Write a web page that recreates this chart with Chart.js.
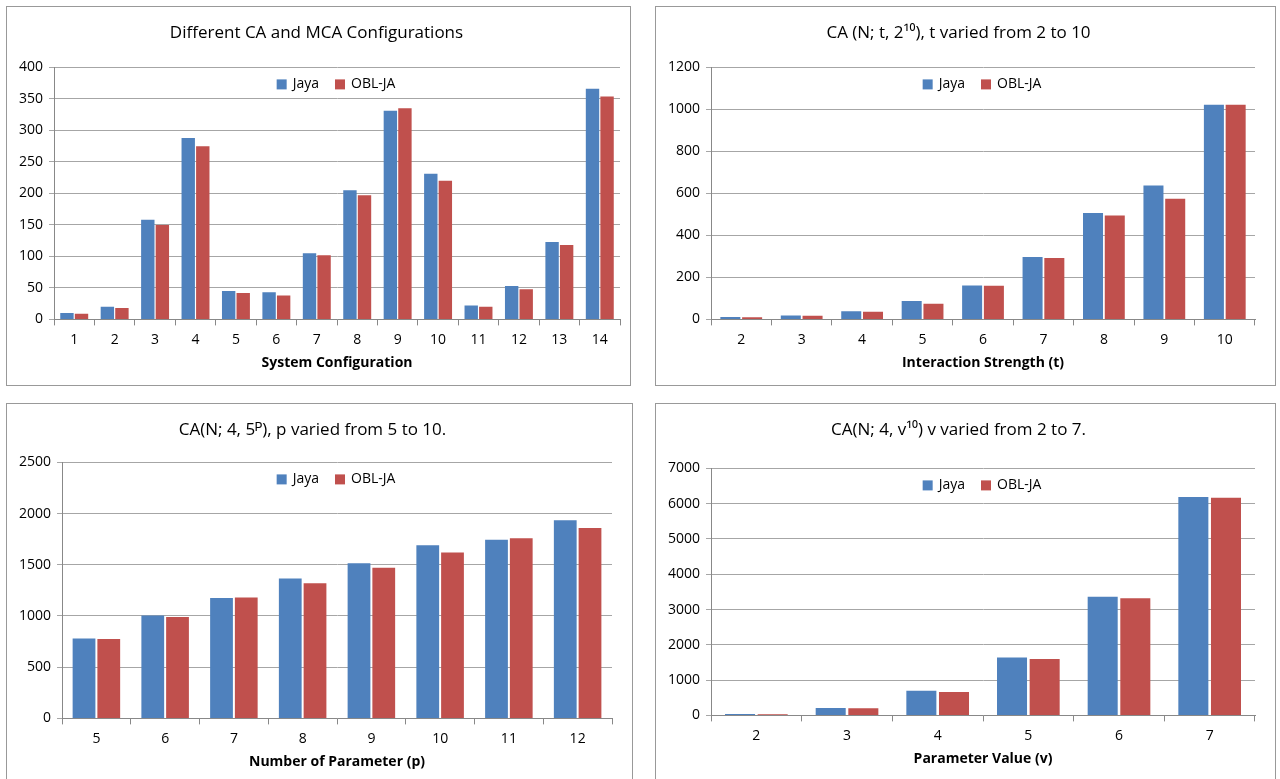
<!DOCTYPE html>
<html><head><meta charset="utf-8">
<script src="https://cdn.jsdelivr.net/npm/chart.js@4"></script>
<style>
body{margin:0;background:#fff;width:1280px;height:779px;overflow:hidden;font-family:"Open Sans",sans-serif}
.p{position:absolute;border:1px solid #999;background:#fff;box-sizing:border-box}
canvas{display:block}
</style></head><body>
<div class="p" style="left:6px;top:6px;width:625px;height:380px"><canvas id="c1"></canvas></div>
<div class="p" style="left:655px;top:6px;width:621px;height:380px"><canvas id="c2"></canvas></div>
<div class="p" style="left:6px;top:403px;width:627px;height:380px"><canvas id="c3"></canvas></div>
<div class="p" style="left:655px;top:403px;width:621px;height:380px"><canvas id="c4"></canvas></div>
<script>
const seriesNames=["Jaya","OBL-JA"];
const cat1=["1","2","3","4","5","6","7","8","9","10","11","12","13","14"];
const jaya1=[10,20,158,288,45,43,105,205,331,231,22,53,123,366];
const obl1=[9,18,150,275,42,38,102,197,335,220,20,48,118,354];
const cat2=["2","3","4","5","6","7","8","9","10"];
const jaya2=[11,18,39,88,162,297,507,638,1022];
const obl2=[10,17,37,75,160,292,495,575,1022];
const cat3=["5","6","7","8","9","10","11","12"];
const jaya3=[780,1005,1175,1365,1515,1690,1745,1935];
const obl3=[775,990,1180,1320,1470,1620,1760,1860];
const cat4=["2","3","4","5","6","7"];
const jaya4=[40,210,700,1640,3360,6190];
const obl4=[35,200,660,1600,3320,6170];
const colors=["#4F81BD","#C0504D"];
const F="'Open Sans',sans-serif";
const legendIn={id:'legendIn',afterDraw(ch){
  const c=ch.ctx,a=ch.chartArea;c.save();c.font="14px "+F;c.textBaseline='middle';
  const items=ch.data.datasets.map(d=>({t:d.label,c:d.backgroundColor}));
  const w=items.reduce((s,i)=>s+12+6+c.measureText(i.t).width,0)+14;
  let x=(a.left+a.right)/2-w/2;const y=a.top+17;
  items.forEach(i=>{c.fillStyle=i.c;c.fillRect(x,y-5,10,10);x+=16;c.fillStyle='#000';c.fillText(i.t,x,y);x+=c.measureText(i.t).width+16;});
  c.restore();}};
function mk(id,title,xt,cats,a,b,max,step,pad,tb){
  const el=document.getElementById(id);
  el.width=el.parentNode.clientWidth;el.height=el.parentNode.clientHeight;
  new Chart(el,{type:'bar',plugins:[legendIn],
    data:{labels:cats,datasets:[{label:seriesNames[0],data:a,backgroundColor:colors[0]},{label:seriesNames[1],data:b,backgroundColor:colors[1]}]},
    options:{responsive:false,animation:false,layout:{padding:pad},
      datasets:{bar:{categoryPercentage:0.72,barPercentage:0.92}},
      plugins:{legend:{display:false},tooltip:{enabled:false},
        title:{display:true,text:title,color:'#000',font:{family:F,size:17,weight:'normal'},padding:{top:8,bottom:tb}}},
      scales:{x:{grid:{display:true,drawOnChartArea:false,offset:true,color:'#888',tickLength:6},border:{color:'#888'},
          ticks:{color:'#000',font:{family:F,size:14},padding:6},
          title:{display:true,text:xt,color:'#000',font:{family:F,size:14,weight:'bold'},padding:{top:0}}},
        y:{min:0,max:max,ticks:{stepSize:step,color:'#000',font:{family:F,size:14},padding:6,callback:v=>String(v)},
          grid:{color:'#a6a6a6',tickLength:5},border:{color:'#888'}}}}});
}
mk('c1','Different CA and MCA Configurations','System Configuration',cat1,jaya1,obl1,400,50,{left:6,right:10,top:8,bottom:10},24);
mk('c2','CA (N; t, 2¹⁰), t varied from 2 to 10','Interaction Strength (t)',cat2,jaya2,obl2,1200,200,{left:6,right:20,top:8,bottom:10},24);
mk('c3','CA(N; 4, 5ᴾ), p varied from 5 to 10.','Number of Parameter (p)',cat3,jaya3,obl3,2500,500,{left:6,right:20,top:8,bottom:8},22);
mk('c4','CA(N; 4, v¹⁰) v varied from 2 to 7.','Parameter Value (v)',cat4,jaya4,obl4,7000,1000,{left:6,right:20,top:8,bottom:11},28);
</script></body></html>
